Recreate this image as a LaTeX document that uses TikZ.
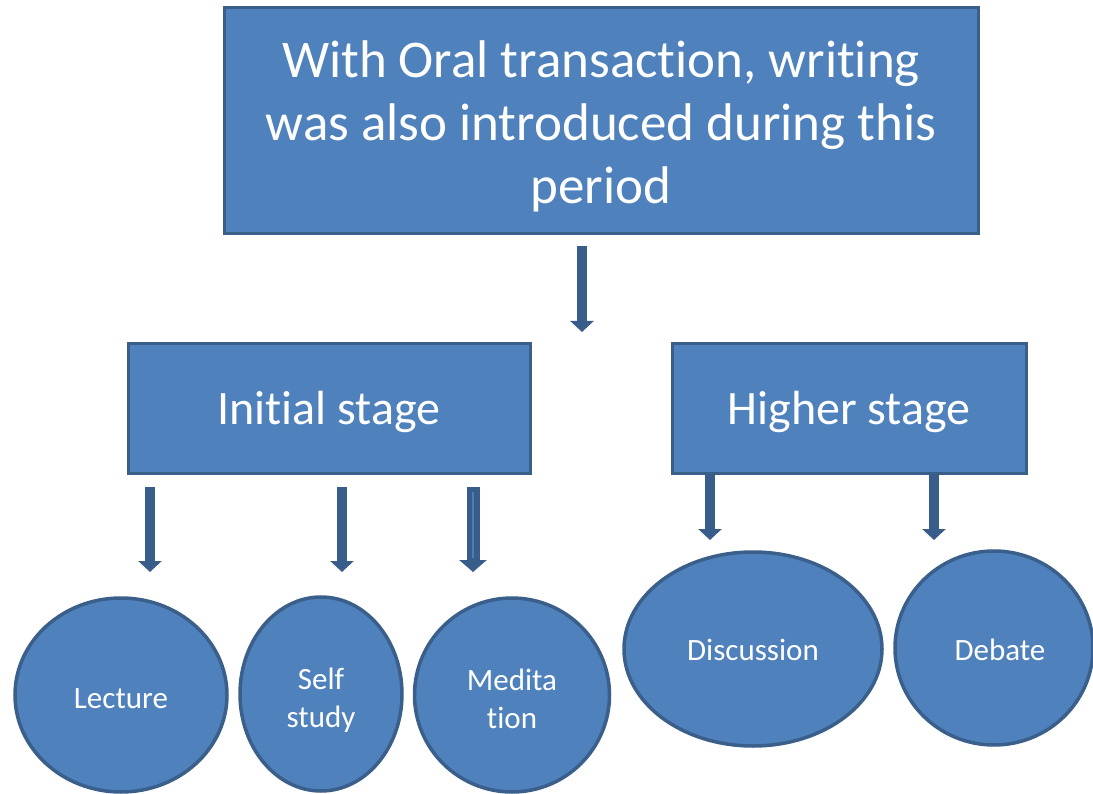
\documentclass[tikz,border=0pt]{standalone}
\usepackage{fontspec}
\setmainfont[Ligatures=NoCommon]{Carlito}
\usetikzlibrary{arrows.meta,shapes.geometric,calc}
\definecolor{boxfill}{HTML}{4F81BD}
\definecolor{boxline}{HTML}{3A5F8B}
\definecolor{arrcol}{HTML}{385D8A}
\definecolor{arrlight}{HTML}{4A7EBB}
\tikzset{
  rbox/.style={draw=boxline, fill=boxfill, line width=3pt, inner sep=0pt},
  btext/.style={text=white, align=center, inner sep=0pt},
  oval/.style={ellipse, draw=boxline, fill=boxfill, line width=3.5pt, inner sep=0pt},
  otext/.style={btext, font=\fontsize{31}{38.5}\selectfont},
  arr/.style={draw=arrcol, line width=10pt, -{Triangle[width=23pt,length=11pt]}},
}
\begin{document}
\begin{tikzpicture}[x=1pt,y=-1pt]
\useasboundingbox (0,0) rectangle (1093,794);
% top box
\node[rbox, minimum width=754pt, minimum height=226pt] (top) at (601,121) {};
\node[btext, font=\fontsize{53}{63}\selectfont] (toptext) at ($(top.center)+(0,5)$)
  {With Oral transaction, writing\\was also introduced during this\\period};
% stage boxes
\node[rbox, minimum width=402pt, minimum height=129pt] (init) at (329,408.5) {};
\node[btext, font=\fontsize{48}{54}\selectfont] (inittext) at ($(init.center)+(0,3)$) {Initial stage};
\node[rbox, minimum width=354pt, minimum height=129pt] (high) at (849,408.5) {};
\node[btext, font=\fontsize{48}{54}\selectfont] (hightext) at ($(high.center)+(0,3)$) {Higher stage};
% ellipses
\node[oval, minimum width=212pt, minimum height=194pt] (lect) at (121,695) {};
\node[otext] (lecttext) at ($(lect.center)+(0,4)$) {Lecture};
\node[oval, minimum width=162pt, minimum height=194pt] (self) at (321,694) {};
\node[otext] (selftext) at ($(self.center)+(0,6)$) {Self\\study};
\node[oval, minimum width=195pt, minimum height=194pt] (medi) at (512,695) {};
\node[otext] (meditext) at ($(medi.center)+(0,4)$) {Medita\\tion};
\node[oval, minimum width=258pt, minimum height=194pt] (disc) at (753,649) {};
\node[otext] (disctext) at ($(disc.center)+(0,1)$) {Discussion};
\node[oval, minimum width=198pt, minimum height=194pt] (deba) at (994,648) {};
\node[otext] (debatext) at ($(deba.center)+(6,2)$) {Debate};
% arrow end points
\coordinate (a0s) at (582,246); \coordinate (a0e) at (582,332);
\coordinate (a1s) at (150,487); \coordinate (a1e) at (150,572);
\coordinate (a2s) at (342,487); \coordinate (a2e) at (342,572);
\coordinate (a3s) at (473,487); \coordinate (a3e) at (473,572);
\coordinate (a4s) at (710,474); \coordinate (a4e) at (710,540);
\coordinate (a5s) at (934,474); \coordinate (a5e) at (934,540);
\draw[arr] (a0s) -- (a0e);
\draw[arr] (a1s) -- (a1e);
\draw[arr] (a2s) -- (a2e);
\draw[arr, line width=13pt, -{Triangle[width=27pt,length=12pt]}] (a3s) -- (a3e);
\draw[arrlight, line width=2.5pt] ($(a3s)+(0,5)$) -- ($(a3e)+(0,-14)$);
\draw[arr] (a4s) -- (a4e);
\draw[arr] (a5s) -- (a5e);
\end{tikzpicture}
\end{document}
